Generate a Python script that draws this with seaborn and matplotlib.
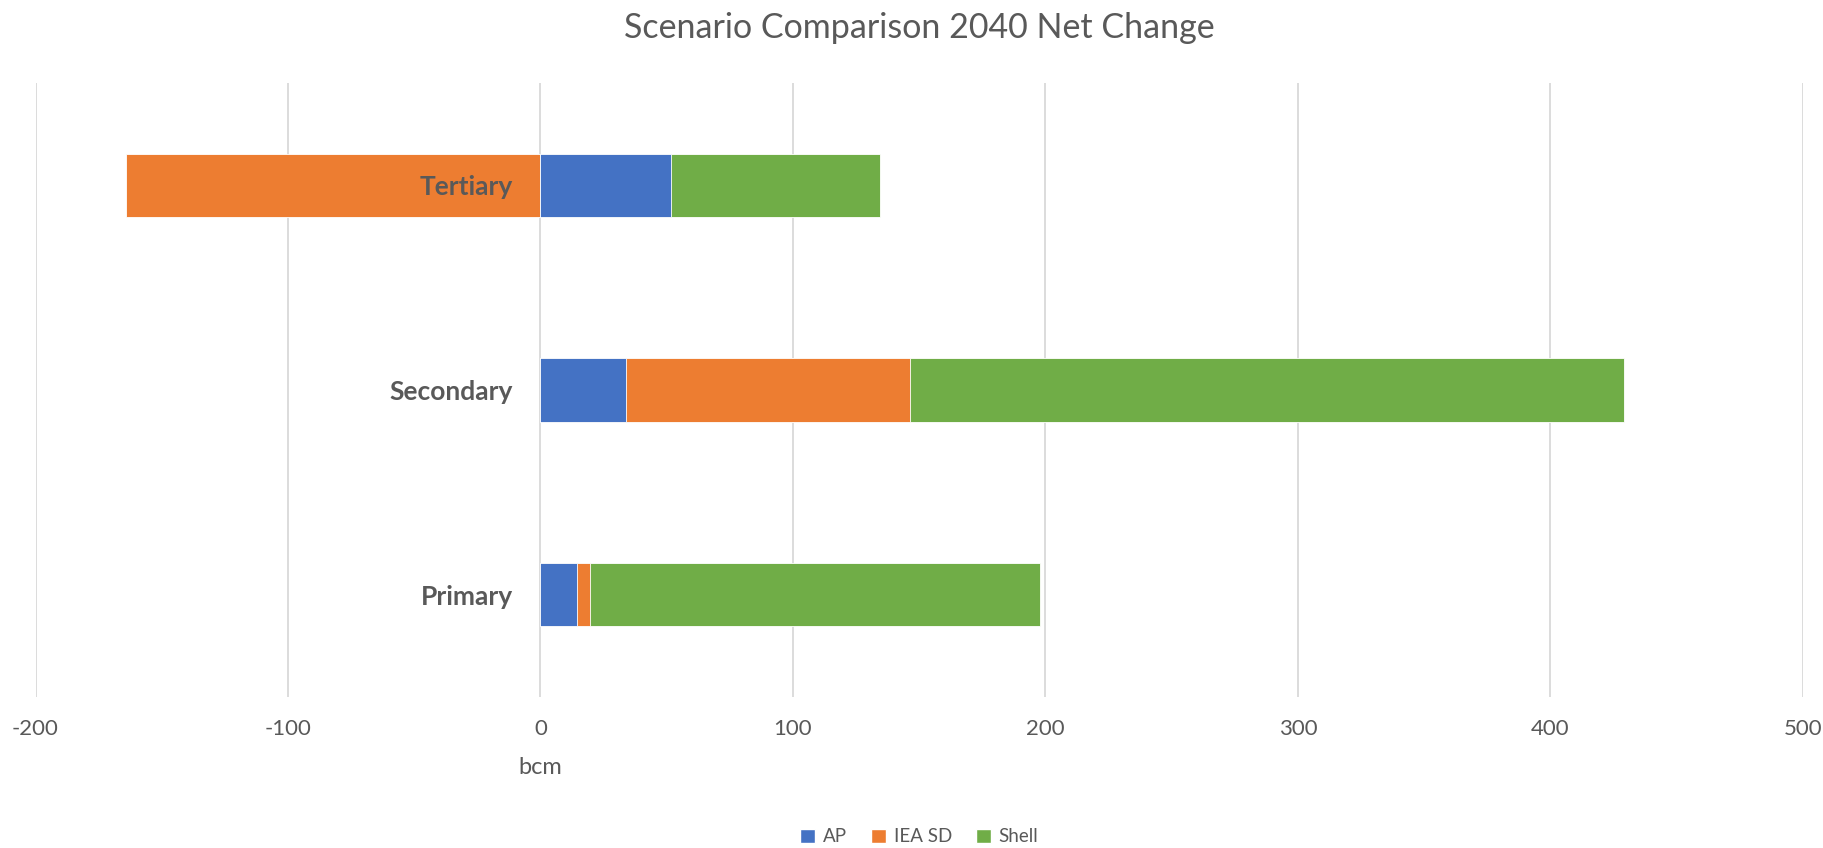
import numpy as np
import pandas as pd
import matplotlib.pyplot as plt
import matplotlib.transforms as mtransforms
from matplotlib.patches import Patch
import seaborn as sns

categories = ['Tertiary', 'Secondary', 'Primary']
series = ['AP', 'IEA SD', 'Shell']
ap = [51.6, 33.8, 14.5]
iea_sd = [-164.0, 112.4, 5.3]
shell = [82.9, 282.8, 178.1]
colors = ['#4472C4', '#ED7D31', '#70AD47']
xticks = [-200, -100, 0, 100, 200, 300, 400, 500]

sns.set_theme(style='white')
plt.rcParams['font.family'] = ['Lato', 'DejaVu Sans']
plt.rcParams['axes.unicode_minus'] = False
grey = '#595959'

df = pd.DataFrame({'Category': categories, 'AP': ap, 'IEA SD': iea_sd, 'Shell': shell})

# excel style stacking: positives pile up to the right, negatives to the left
pos = np.zeros(len(df))
neg = np.zeros(len(df))
for s in series:
    v = df[s].to_numpy()
    df[s + '_end'] = np.where(v >= 0, pos + v, neg + v)
    pos = pos + np.clip(v, 0, None)
    neg = neg + np.clip(v, None, 0)

fig, ax = plt.subplots(figsize=(18.24, 8.48), dpi=100)
fig.subplots_adjust(left=35.5 / 1824, right=1803 / 1824, top=1 - 83 / 848, bottom=1 - 697 / 848)

# draw outermost segment first, inner ones on top
for s, c in reversed(list(zip(series, colors))):
    sns.barplot(data=df, x=s + '_end', y='Category', orient='h', color=c, saturation=1,
                width=0.31, edgecolor='white', linewidth=0.6, ax=ax)

ax.set_xlim(-200, 500)
ax.set_ylim(2.5, -0.5)
ax.set_xticks(xticks)
ax.grid(axis='x', color='#D9D9D9', linewidth=1.3)
ax.grid(axis='y', visible=False)
ax.xaxis.set_zorder(0.5)
ax.yaxis.set_zorder(3)

for sp in ax.spines.values():
    sp.set_visible(False)
ax.spines['left'].set_position(('data', 0))

ax.tick_params(axis='x', length=0, pad=16, labelsize=16, labelcolor=grey)
ax.tick_params(axis='y', length=0, pad=20, labelsize=19, labelcolor=grey)
for lab in ax.get_yticklabels():
    lab.set_fontweight('bold')

ax.set_ylabel('')
ax.set_xlabel('bcm', fontsize=17, color=grey)
ax.xaxis.set_label_coords(0, -71 / 614,
                          transform=mtransforms.blended_transform_factory(ax.transData, ax.transAxes))
ax.xaxis.label.set_va('center')

fig.suptitle('Scenario Comparison 2040 Net Change', x=0.504, y=1 - 28 / 848, va='center',
             fontsize=24.5, color=grey)

handles = [Patch(facecolor=c, label=s) for s, c in zip(series, colors)]
leg = fig.legend(handles=handles, loc='center', bbox_to_anchor=(0.504, 1 - 837 / 848), ncol=3,
                 frameon=False, handlelength=0.8, handleheight=0.8, handletextpad=0.4,
                 columnspacing=1.3, fontsize=13.5)
for t in leg.get_texts():
    t.set_color(grey)

fig.savefig('out.png', dpi=100)
